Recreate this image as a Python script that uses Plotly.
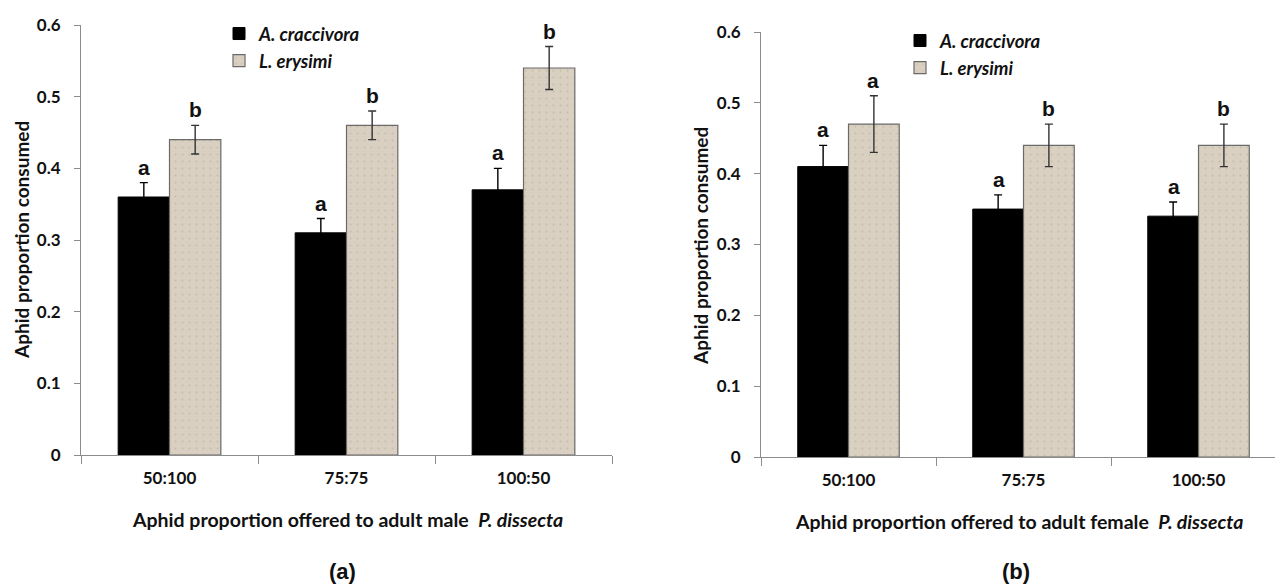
import plotly.graph_objects as go

categories = ["50:100", "75:75", "100:50"]
series_names = ["A. craccivora", "L. erysimi"]

male_crac = [0.36, 0.31, 0.37]
male_crac_err = [0.02, 0.02, 0.03]
male_erys = [0.44, 0.46, 0.54]
male_erys_err = [0.02, 0.02, 0.03]
male_crac_letters = ["a", "a", "a"]
male_erys_letters = ["b", "b", "b"]

female_crac = [0.41, 0.35, 0.34]
female_crac_err = [0.03, 0.02, 0.02]
female_erys = [0.47, 0.44, 0.44]
female_erys_err = [0.04, 0.03, 0.03]
female_crac_letters = ["a", "a", "a"]
female_erys_letters = ["a", "b", "b"]

ytick_vals = [0, 0.1, 0.2, 0.3, 0.4, 0.5, 0.6]
ytick_text = ["0", "0.1", "0.2", "0.3", "0.4", "0.5", "0.6"]

W, H = 1275, 584
BLACK = "#000000"
BEIGE = "#d9d0c1"
TICKFONT = dict(family="Lato, Open Sans, sans-serif", size=17, color="#111", weight="bold")
LBLFONT = dict(family="Liberation Sans, Arial, sans-serif", size=21, color="#111", weight="bold")

fig = go.Figure()

def add_panel(xa, ya, crac, crac_err, erys, erys_err, legend):
    fig.add_trace(go.Bar(
        x=categories, y=crac, name=series_names[0],
        marker=dict(color=BLACK, line=dict(color=BLACK, width=1)),
        error_y=dict(type="data", array=crac_err, color="#000", thickness=1.4, width=4),
        xaxis=xa, yaxis=ya, legend=legend))
    fig.add_trace(go.Bar(
        x=categories, y=erys, name=series_names[1],
        marker=dict(color=BEIGE, line=dict(color="#6a6a6a", width=1.2),
                    pattern=dict(shape=".", size=7, solidity=0.06, fgcolor="#c6bcab",
                                 bgcolor=BEIGE, fillmode="replace")),
        error_y=dict(type="data", array=erys_err, color="#333", thickness=1.4, width=4),
        xaxis=xa, yaxis=ya, legend=legend))

add_panel("x", "y", male_crac, male_crac_err, male_erys, male_erys_err, "legend")
add_panel("x2", "y2", female_crac, female_crac_err, female_erys, female_erys_err, "legend2")

annotations = []
def letters(xref, yref, vals, errs, labs, shift):
    for c, v, e, l in zip(categories, vals, errs, labs):
        annotations.append(dict(x=c, y=v + e, xref=xref, yref=yref, text=l,
                                showarrow=False, xshift=shift, yshift=2,
                                xanchor="center", yanchor="bottom", font=LBLFONT))

letters("x", "y", male_crac, male_crac_err, male_crac_letters, -25.5)
letters("x", "y", male_erys, male_erys_err, male_erys_letters, 25.5)
letters("x2", "y2", female_crac, female_crac_err, female_crac_letters, -25)
letters("x2", "y2", female_erys, female_erys_err, female_erys_letters, 25)

TFONT = dict(family="Lato, Open Sans, sans-serif", size=19, color="#111", weight="bold")
XTFONT = dict(family="Lato, Open Sans, sans-serif", size=19.5, color="#111", weight="bold")
PFONT = dict(family="Liberation Sans, Arial, sans-serif", size=22, color="#111", weight="bold")
def pa(x, y, text, font, angle=0):
    annotations.append(dict(x=x / W, y=1 - y / H, xref="paper", yref="paper", showarrow=False,
                            xanchor="center", yanchor="middle", text=text, font=font,
                            textangle=angle))

pa(347, 519, "Aphid proportion offered to adult male  <i>P. dissecta</i>", XTFONT)
pa(1019, 521, "Aphid proportion offered to adult female  <i>P. dissecta</i>", XTFONT)
pa(21, 240, "Aphid proportion consumed", TFONT, -90)
pa(700, 246, "Aphid proportion consumed", TFONT, -90)
pa(342, 571, "(a)", PFONT)
pa(1016, 571, "(b)", PFONT)

xaxis_common = dict(type="category", showline=True, linecolor="#8c8c8c", linewidth=1,
                    ticks="outside", tickson="boundaries", ticklen=8, tickcolor="#8c8c8c",
                    tickfont=TICKFONT, showgrid=False, zeroline=False, fixedrange=True,
                    ticklabelstandoff=8, automargin=False)
yaxis_common = dict(range=[0, 0.6], tickvals=ytick_vals, ticktext=ytick_text,
                    showline=True, linecolor="#8c8c8c", linewidth=1,
                    ticks="outside", ticklen=6, tickcolor="#8c8c8c",
                    tickfont=TICKFONT, showgrid=False, zeroline=False, fixedrange=True,
                    ticklabelstandoff=10, automargin=False)

legend_font = dict(family="Lato, Open Sans, sans-serif", size=18.5, color="#111",
                   weight="bold", style="italic")

fig.update_layout(
    width=W, height=H,
    margin=dict(l=0, r=0, t=0, b=0, autoexpand=False),
    paper_bgcolor="white", plot_bgcolor="white",
    barmode="group", bargap=0.42, bargroupgap=0,
    showlegend=True,
    xaxis=dict(domain=[81 / W, 612 / W], anchor="y", range=[-0.5, 2.5], **xaxis_common),
    yaxis=dict(domain=[1 - 455 / H, 1 - 25 / H], anchor="x", **yaxis_common),
    xaxis2=dict(domain=[761 / W, 1.0], anchor="y2", range=[-0.5, 2.437], **xaxis_common),
    yaxis2=dict(domain=[1 - 457 / H, 1 - 32 / H], anchor="x2", **yaxis_common),
    legend=dict(x=219 / W, y=1 - 15 / H, xanchor="left", yanchor="top", font=legend_font,
                bgcolor="rgba(0,0,0,0)", itemwidth=30),
    legend2=dict(x=900 / W, y=1 - 22 / H, xanchor="left", yanchor="top", font=legend_font,
                 bgcolor="rgba(0,0,0,0)", itemwidth=30),
    annotations=annotations,
)

fig.write_html("out.html", config={"displayModeBar": False},
               post_script="document.body.style.margin='0';document.body.style.overflow='hidden';")
